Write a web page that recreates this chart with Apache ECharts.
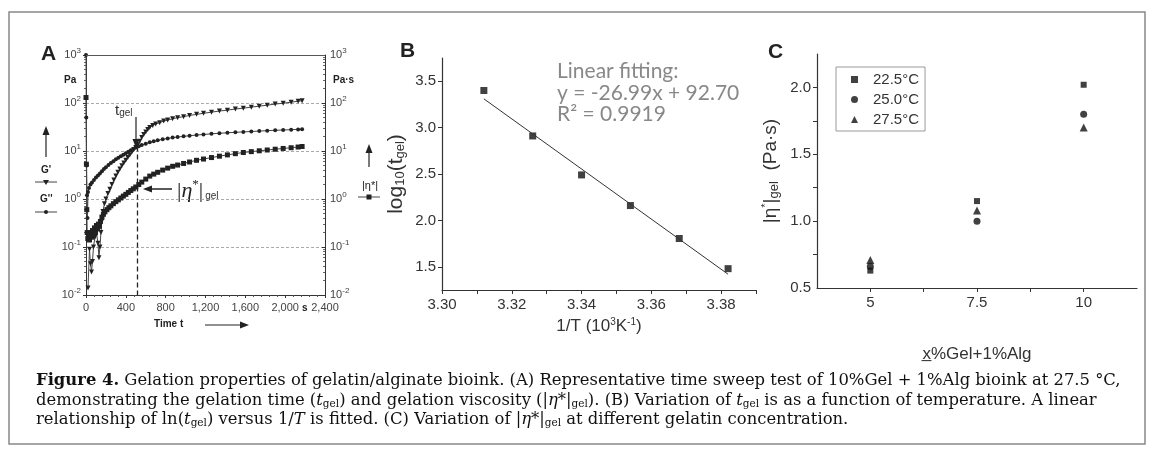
<!DOCTYPE html>
<html><head><meta charset="utf-8">
<script src="https://cdn.jsdelivr.net/npm/echarts@6/dist/echarts.min.js"></script>
<style>html,body{margin:0;padding:0;background:#fff}#c{width:1153px;height:455px}</style>
</head><body><div id="c"></div>
<script>
// ---------------- Panel A : time sweep (log scale) ----------------
const tGp  = [20,35,45,55,65,75,90,105,120,130,140,150,160,170,185,200,220,240,260,280,300,320,340,360,380,400,420,440,460,480,500,520,540,560,580,600,620,640,670,700,740,780,820,870,920,980,1040,1110,1180,1260,1340,1420,1500,1580,1660,1740,1820,1900,1980,2060,2130,2170];
const vGp  = [0.014,0.09,0.045,0.03,0.05,0.1,0.16,0.2,0.12,0.06,0.1,0.2,0.35,0.55,0.8,1.0,1.3,1.6,2.0,2.5,3.0,3.6,4.2,4.9,5.6,6.4,7.3,8.3,9.4,10.6,11.8,13.5,16,19,22,25,28,31,34,36.5,39,42,44,47,49.5,52,55,58,61,64.5,68,71,75,78,82,86,90,95,99,104,109,112];
const tGpp = [0,3,6,10,15,20,30,45,60,80,100,120,140,160,180,200,225,250,275,300,325,350,375,400,425,450,475,500,530,560,600,640,680,720,770,820,870,920,980,1040,1110,1180,1260,1340,1420,1500,1580,1660,1740,1820,1900,1980,2060,2130,2170];
const vGpp = [1000,50,5,1.2,0.4,1.4,1.7,2.0,2.2,2.5,2.8,3.1,3.4,3.8,4.2,4.6,5.1,5.6,6.1,6.7,7.2,7.8,8.4,9.0,9.7,10.4,11.1,11.8,12.6,13.3,14.2,15.2,16.0,16.7,17.5,18.3,19.0,19.5,20.2,20.8,21.5,22.1,22.8,23.4,24.0,24.5,25.0,25.5,26.0,26.5,27.0,27.4,27.8,28.2,28.5];
const tEta = [0,4,8,12,18,25,35,45,55,65,75,85,95,105,115,125,135,145,160,175,190,210,230,250,275,300,325,350,375,400,425,450,475,500,530,560,600,640,680,720,770,820,870,920,980,1040,1110,1180,1260,1340,1420,1500,1580,1660,1740,1820,1900,1980,2060,2130,2170];
const vEta = [130,5.3,0.6,0.2,0.15,0.18,0.14,0.2,0.16,0.22,0.18,0.25,0.2,0.28,0.24,0.3,0.27,0.34,0.42,0.48,0.54,0.6,0.66,0.72,0.8,0.88,0.96,1.05,1.15,1.25,1.37,1.5,1.63,1.78,2.0,2.25,2.6,3.0,3.3,3.6,4.0,4.4,4.8,5.1,5.5,5.9,6.4,6.8,7.3,7.8,8.3,8.8,9.3,9.7,10.1,10.5,10.9,11.3,11.7,12.1,12.4];
const tGel = 510, gGel = 12.4;

// ---------------- Panel B : log10(tgel) vs 1/T ----------------
const invT     = [3.312,3.326,3.340,3.354,3.368,3.382];
const logTgel  = [3.40,2.91,2.49,2.16,1.805,1.48];
const fitX     = [3.312,3.382];
const fitY     = [3.31,1.42];
const bXTicks  = [3.30,3.31,3.32,3.33,3.34,3.35,3.36,3.37,3.38,3.39];
const bXLabels = [3.30,3.32,3.34,3.36,3.38];
const bYLabels = [1.5,2.0,2.5,3.0,3.5];
const fitText  = ['Linear fitting:','y = -26.99x + 92.70','R\u00b2 = 0.9919'];

// ---------------- Panel C : |eta*|gel vs gelatin % ----------------
const gelConc  = [5,7.5,10];
const eta225   = [0.63,1.15,2.02];
const eta250   = [0.66,1.00,1.80];
const eta275   = [0.71,1.08,1.70];
const cNames   = ['22.5\u00b0C','25.0\u00b0C','27.5\u00b0C'];
const cXTicks  = [5,6.25,7.5,8.75,10];
const cXLabels = [5,7.5,10];
const cYTicks  = [0.75,1.0,1.25,1.5,1.75,2.0];
const cYLabels = [0.5,1.0,1.5,2.0];

const SANS = 'Liberation Sans';
const SERIF = 'DejaVu Serif';
const zip = (a,b) => a.map((x,i)=>[x,b[i]]);
const supRich = {s:{fontSize:8,fontFamily:SANS,color:'#444',padding:[0,0,9,0]}};
const logFmt = v => '10{s|' + Math.round(Math.log10(v)) + '}';

const axA = {lineStyle:{color:'#333',width:1}};
const option = {
  animation:false,
  backgroundColor:'#fff',
  grid:[
    {left:86, top:55, width:239, height:240},
    {left:442, top:58, width:314, height:232},
    {left:817, top:54, width:320, height:234}
  ],
  xAxis:[
    {gridIndex:0, type:'value', min:0, max:2400, interval:400,
     axisLine:axA, axisTick:{length:3,lineStyle:{color:'#333'}},
     minorTick:{show:true,splitNumber:5,length:2,lineStyle:{color:'#555'}},
     splitLine:{show:false},
     axisLabel:{fontFamily:SANS,fontSize:11,color:'#444',margin:7,formatter:v=>v.toLocaleString('en-US')}},
    {gridIndex:1, type:'value', min:3.30, max:3.39,
     axisLine:{lineStyle:{color:'#333',width:1.2}},
     axisTick:{length:4,customValues:bXTicks,lineStyle:{color:'#333'}},
     splitLine:{show:false},
     axisLabel:{customValues:bXLabels,fontFamily:SANS,fontSize:15,color:'#333',margin:7,formatter:v=>v.toFixed(2)},
     name:'1/T (10{s|3}K{s|-1})', nameLocation:'middle', nameGap:26,
     nameTextStyle:{fontFamily:SANS,fontSize:17,color:'#333',rich:{s:{fontSize:10,fontFamily:SANS,color:'#333',padding:[0,0,9,0]}}}},
    {gridIndex:2, type:'value', min:3.75, max:11.25,
     axisLine:{lineStyle:{color:'#333',width:1.2}},
     axisTick:{length:4,customValues:cXTicks,lineStyle:{color:'#333'}},
     splitLine:{show:false},
     axisLabel:{customValues:cXLabels,fontFamily:SANS,fontSize:15,color:'#333',margin:7,formatter:v=>String(v)},
     name:'x\u0332%Gel+1%Alg', nameLocation:'middle', nameGap:58,
     nameTextStyle:{fontFamily:SANS,fontSize:17,color:'#333'}}
  ],
  yAxis:[
    {gridIndex:0, type:'log', logBase:10, min:0.01, max:1000,
     axisLine:axA, axisTick:{length:3,lineStyle:{color:'#333'}},
     minorTick:{show:true,splitNumber:9,length:2,lineStyle:{color:'#666'}},
     splitLine:{show:true,lineStyle:{type:[3,2],color:'#aaa',width:1}},
     axisLabel:{fontFamily:SANS,fontSize:11,color:'#444',margin:5,formatter:logFmt,rich:supRich}},
    {gridIndex:0, type:'log', logBase:10, min:0.01, max:1000, position:'right',
     axisLine:axA, axisTick:{length:3,inside:true,lineStyle:{color:'#333'}},
     minorTick:{show:true,splitNumber:9,length:2,lineStyle:{color:'#666'}},
     splitLine:{show:false},
     axisLabel:{fontFamily:SANS,fontSize:11,color:'#444',margin:5,formatter:logFmt,rich:supRich}},
    {gridIndex:1, type:'value', min:1.25, max:3.75,
     axisLine:{lineStyle:{color:'#333',width:1.2}},
     axisTick:{length:4,customValues:bYLabels,lineStyle:{color:'#333'}},
     splitLine:{show:false},
     axisLabel:{customValues:bYLabels,fontFamily:SANS,fontSize:15,color:'#333',margin:6,formatter:v=>v.toFixed(1)},
     name:'log{s|10}(t{s|gel})', nameLocation:'middle', nameGap:35,
     nameTextStyle:{fontFamily:SANS,fontSize:21,color:'#333',rich:{s:{fontSize:13,fontFamily:SANS,color:'#333',padding:[8,0,0,0]}}}},
    {gridIndex:2, type:'value', min:0.5, max:2.25,
     axisLine:{lineStyle:{color:'#333',width:1.2}},
     axisTick:{length:4,customValues:cYTicks,lineStyle:{color:'#333'}},
     splitLine:{show:false},
     axisLabel:{customValues:cYLabels,fontFamily:SANS,fontSize:15,color:'#333',margin:6,formatter:v=>v.toFixed(1)},
     name:'|\u03b7{p|*}|{s|gel}  (Pa\u00b7s)', nameLocation:'middle', nameGap:36,
     nameTextStyle:{fontFamily:SANS,fontSize:19,color:'#333',
       rich:{p:{fontSize:11,fontFamily:SANS,color:'#333',padding:[0,0,10,0]},s:{fontSize:13,fontFamily:SANS,color:'#333',padding:[8,0,0,0]}}}}
  ],
  legend:{
    show:true, left:836, top:67, orient:'vertical', data:cNames,
    itemWidth:7, itemHeight:7, itemGap:5,
    padding:[5,6,4,15], borderColor:'#999', borderWidth:1,
    textStyle:{fontFamily:SANS,fontSize:15,color:'#333',padding:[0,0,0,10]}
  },
  series:[
    {name:"G'", type:'line', xAxisIndex:0, yAxisIndex:0, data:zip(tGp,vGp),
     symbol:'triangle', symbolRotate:180, symbolSize:5,
     lineStyle:{color:'#444',width:1}, itemStyle:{color:'#222'},
     markLine:{silent:true,symbol:['none','none'],label:{show:false},
       lineStyle:{type:[5,3],color:'#222',width:1.3},
       data:[[{coord:[tGel,gGel]},{coord:[tGel,0.01]}]]}},
    {name:"G''", type:'line', xAxisIndex:0, yAxisIndex:0, data:zip(tGpp,vGpp),
     symbol:'circle', symbolSize:4,
     lineStyle:{color:'#444',width:1}, itemStyle:{color:'#222'},
     markLine:{silent:true,symbol:['none','none'],label:{show:false},
       lineStyle:{type:'solid',color:'#555',width:1},data:[{yAxis:1000}]}},
    {name:'eta', type:'line', xAxisIndex:0, yAxisIndex:1, data:zip(tEta,vEta),
     symbol:'rect', symbolSize:5,
     lineStyle:{color:'#444',width:1}, itemStyle:{color:'#222'}},
    {name:'fit', type:'line', xAxisIndex:1, yAxisIndex:2, data:zip(fitX,fitY),
     symbol:'none', lineStyle:{color:'#333',width:1}},
    {name:'tgel', type:'scatter', xAxisIndex:1, yAxisIndex:2, data:zip(invT,logTgel),
     symbol:'rect', symbolSize:7, itemStyle:{color:'#111'}},
    {name:cNames[0], type:'scatter', xAxisIndex:2, yAxisIndex:3, data:zip(gelConc,eta225),
     symbol:'rect', symbolSize:6, itemStyle:{color:'#111'}},
    {name:cNames[1], type:'scatter', xAxisIndex:2, yAxisIndex:3, data:zip(gelConc,eta250),
     symbol:'circle', symbolSize:7, itemStyle:{color:'#111'}},
    {name:cNames[2], type:'scatter', xAxisIndex:2, yAxisIndex:3, data:zip(gelConc,eta275),
     symbol:'triangle', symbolSize:8, itemStyle:{color:'#111'}}
  ]
};

const T = (x,y,text,o={}) => ({type:'text', x, y, silent:true, style:Object.assign({text, fontFamily:SANS, fontSize:10, fontWeight:'bold', fill:'#222', verticalAlign:'middle'}, o)});
const L = (x1,y1,x2,y2,w=1.2,c='#222') => ({type:'line', silent:true, shape:{x1,y1,x2,y2}, style:{stroke:c,lineWidth:w}});
const P = (pts,c='#222') => ({type:'polygon', silent:true, shape:{points:pts}, style:{fill:c}});
const CF = 16.4;
const capRich = {
  b:{fontFamily:SERIF,fontSize:CF,fontWeight:'bold',fill:'#111'},
  i:{fontFamily:SERIF,fontSize:CF,fontStyle:'italic',fill:'#111'},
  g:{fontFamily:SERIF,fontSize:10.5,fill:'#111',padding:[6,0,0,0]}
};
const cap = (y,text) => ({type:'text', x:36, y, silent:true, style:{text, fontFamily:SERIF, fontSize:CF, fill:'#111', verticalAlign:'middle', rich:capRich}});
const fitStyle = {fontWeight:'normal',fontFamily:'Lato',fontSize:21,fill:'#888'};

option.graphic = [
  {type:'rect', silent:true, shape:{x:9,y:12,width:1136,height:432}, style:{fill:'none',stroke:'#888',lineWidth:1.5}},
  T(41,54,'A',{fontSize:21}), T(400,51,'B',{fontSize:21}), T(768,52,'C',{fontSize:21}),
  // panel A side legends
  T(64,80,'Pa'), L(46,157,46,133), P([[42.5,135],[49.5,135],[46,126]]),
  T(41,170,"G'"), L(35,182,57,182,1,'#444'), P([[43,180],[49,180],[46,185]]),
  T(40,199,"G''"), L(35,212,57,212,1,'#444'), {type:'circle',silent:true,shape:{cx:46,cy:212,r:2},style:{fill:'#222'}},
  T(333,80,'Pa\u00b7s'), L(369,167,369,151), P([[365.5,153],[372.5,153],[369,144]]),
  T(362,186,'|\u03b7*|',{fontWeight:'normal',fontSize:11}), L(358,197,380,197,1,'#444'),
  {type:'rect',silent:true,shape:{x:366.5,y:194.5,width:5,height:5},style:{fill:'#222'}},
  T(154,324,'Time t'), L(205,325,242,325), P([[240,321.5],[240,328.5],[249,325]]),
  T(302,308,'s'),
  T(115,111,'t{s|gel}',{fontWeight:'normal',fontSize:15,fill:'#333',rich:{s:{fontSize:10,fontFamily:SANS,fill:'#333',padding:[5,0,0,0]}}}),
  L(136,117,136,140), P([[132.5,139],[139.5,139],[136,148]]),
  L(172,189,150,189,1.5), P([[152,185.5],[152,192.5],[143,189]]),
  T(177,191,'|{e|\u03b7}{p|*}|{g|gel}',{fontWeight:'normal',fontFamily:'Liberation Serif',fontSize:22,fill:'#222',
     rich:{e:{fontFamily:'Liberation Serif',fontSize:22,fontStyle:'italic',fill:'#222'},p:{fontFamily:'Liberation Serif',fontSize:13,fill:'#222',padding:[0,0,12,0]},g:{fontFamily:SANS,fontSize:10,fill:'#333',padding:[10,0,0,2]}}}),
  // panel B fit text
  T(557,71,fitText[0],fitStyle),
  T(557,93,fitText[1],fitStyle),
  T(557,114,fitText[2],fitStyle),
  // caption
  cap(381,'{b|Figure 4.} Gelation properties of gelatin/alginate bioink. (A) Representative time sweep test of 10%Gel + 1%Alg bioink at 27.5 \u00b0C,'),
  cap(401,'demonstrating the gelation time ({i|t}{g|gel}) and gelation viscosity (|{i|\u03b7}*|{g|gel}). (B) Variation of {i|t}{g|gel} is as a function of temperature. A linear'),
  cap(420,'relationship of ln({i|t}{g|gel}) versus 1/{i|T} is fitted. (C) Variation of |{i|\u03b7}*|{g|gel} at different gelatin concentration.')
];

const chart = echarts.init(document.getElementById('c'), null, {renderer:'canvas'});
chart.setOption(option);
</script></body></html>
